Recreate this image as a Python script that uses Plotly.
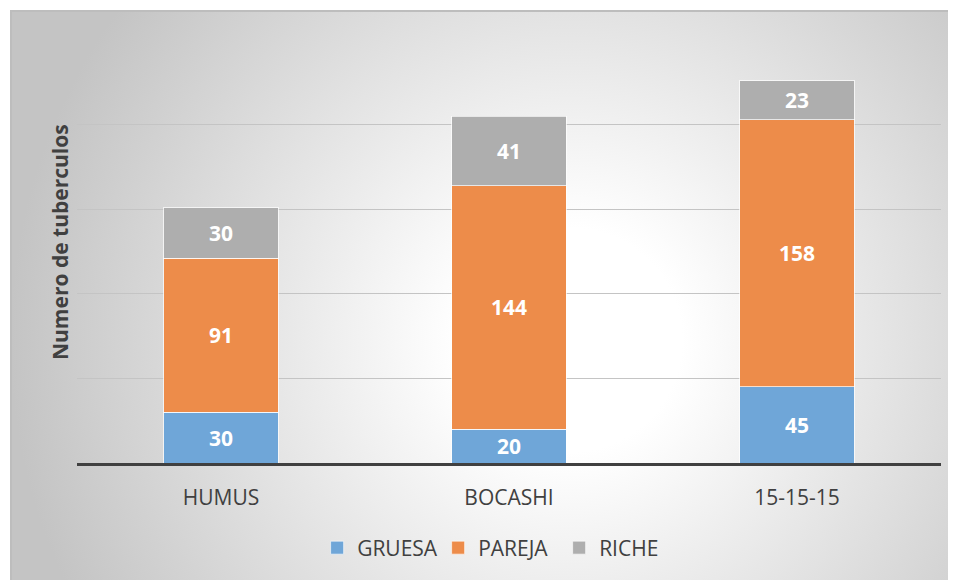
import base64
import plotly.graph_objects as go

categories = ["HUMUS", "BOCASHI", "15-15-15"]
gruesa = [30, 20, 45]
pareja = [91, 144, 158]
riche = [30, 41, 23]
series_names = ["GRUESA", "PAREJA", "RICHE"]
colors = ["#6FA6D8", "#ED8C4A", "#AEAEAE"]

W, H = 948, 572
L, T = 69, 32
pw, ph = 864, 423
R, B = W - L - pw, H - T - ph

fx0, fy0, fx1, fy1 = 2, 2, 960, 590
fw, fh = fx1 - fx0, fy1 - fy0

svg = f'''<svg xmlns="http://www.w3.org/2000/svg" width="{fw}" height="{fh}" viewBox="0 0 {fw} {fh}">
<defs><radialGradient id="g" gradientUnits="userSpaceOnUse" cx="560" cy="330" r="560" fx="560" fy="330">
<stop offset="0" stop-color="#ffffff"/><stop offset="0.2" stop-color="#ffffff"/><stop offset="1" stop-color="#c4c4c4"/></radialGradient></defs>
<rect x="0" y="0" width="{fw}" height="{fh}" fill="url(#g)"/>
<line x1="0" y1="1" x2="{fw}" y2="1" stroke="#bdbdbd" stroke-width="2"/>
<line x1="1" y1="0" x2="1" y2="{fh}" stroke="#bdbdbd" stroke-width="2"/>
</svg>'''
src = "data:image/svg+xml;base64," + base64.b64encode(svg.encode()).decode()

fig = go.Figure()
for name, vals, col in zip(series_names, [gruesa, pareja, riche], colors):
    fig.add_trace(go.Bar(
        x=categories, y=vals, name=name, showlegend=False,
        marker=dict(color=col, line=dict(color="rgba(255,255,255,0.7)", width=1)),
        text=[str(v) for v in vals], textposition="inside", insidetextanchor="middle",
        textangle=0, constraintext="none",
        textfont=dict(family="Open Sans", size=21, color="white", weight="bold"),
        width=0.396,
    ))
    # legend entry with a larger square swatch
    fig.add_trace(go.Scatter(
        x=[None], y=[None], mode="markers", name=name,
        marker=dict(symbol="square", size=13, color=col,
                    line=dict(color="rgba(255,255,255,0.6)", width=1)),
    ))

fig.update_layout(
    barmode="stack",
    width=W, height=H,
    margin=dict(l=L, r=R, t=T, b=B),
    paper_bgcolor="rgba(0,0,0,0)", plot_bgcolor="rgba(0,0,0,0)",
    font=dict(family="Open Sans", color="#404040"),
    images=[dict(source=src, xref="paper", yref="paper",
                 x=(fx0 - L) / pw, y=(T + ph - fy0) / ph,
                 sizex=fw / pw, sizey=fh / ph,
                 xanchor="left", yanchor="top", sizing="stretch", layer="below")],
    xaxis=dict(showline=True, linecolor="#404040", linewidth=3, ticks="outside",
               ticklen=14, tickcolor="rgba(0,0,0,0)",
               tickfont=dict(family="Open Sans", size=21, color="#404040")),
    yaxis=dict(range=[0, 250], dtick=50, showticklabels=False, showgrid=True,
               gridcolor="#c4c4c4", gridwidth=1, zeroline=False),
    annotations=[dict(text="<b>Numero de tuberculos</b>", textangle=-90,
                      xref="paper", yref="paper",
                      x=(52 - L) / pw, y=(T + ph - 234) / ph,
                      xanchor="center", yanchor="middle", showarrow=False,
                      font=dict(family="Open Sans", size=21, color="#404040"))],
    legend=dict(orientation="h", x=0.488, xanchor="center", y=(T + ph - 540) / ph, yanchor="middle",
                font=dict(family="Open Sans", size=21, color="#404040"),
                bgcolor="rgba(0,0,0,0)", itemwidth=30, entrywidth=76, traceorder="normal"),
)

fig.write_html("out.html")
